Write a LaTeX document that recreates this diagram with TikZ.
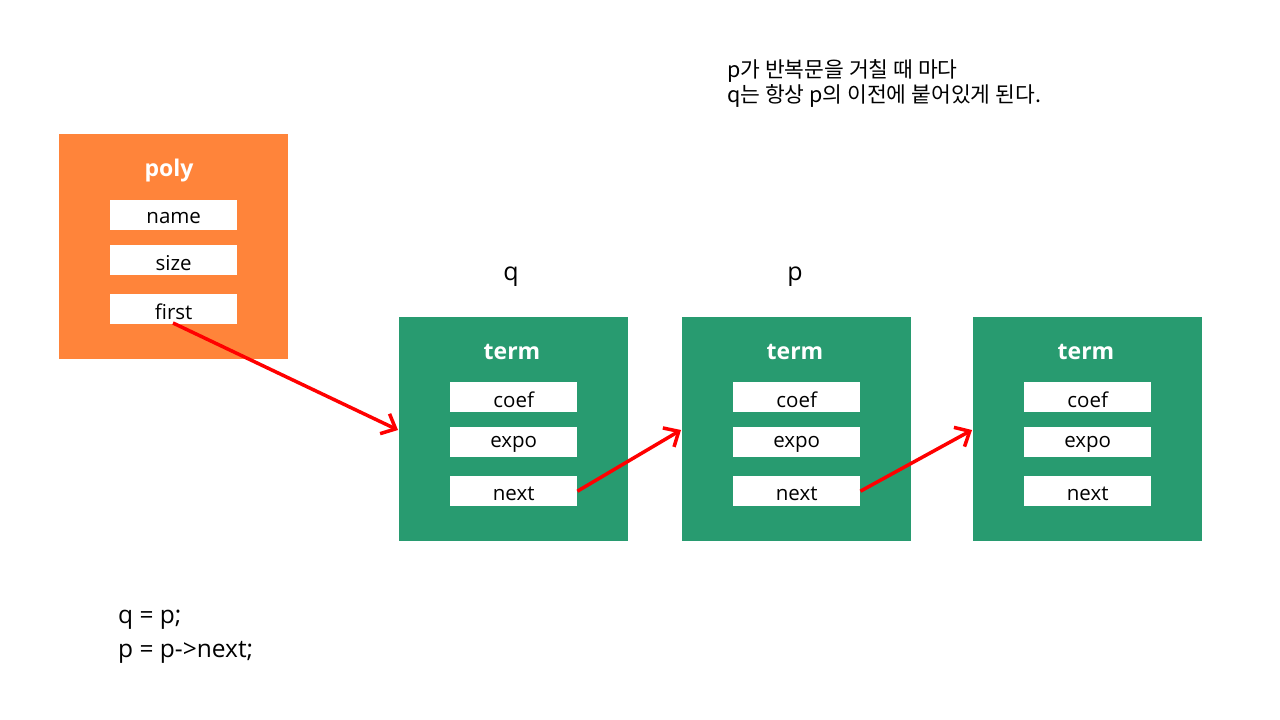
\documentclass[tikz,border=0pt]{standalone}
\usepackage{fontspec}
\setmainfont{Open Sans}
\newfontfamily\kor{Noto Sans CJK KR}
\usetikzlibrary{arrows.meta}
\definecolor{polyor}{RGB}{255,132,58}
\definecolor{termgr}{RGB}{40,155,112}
\definecolor{arrred}{RGB}{255,0,0}
\tikzset{
  polybox/.style={fill=polyor, draw=none, minimum width=229pt, minimum height=225pt, anchor=north west, inner sep=0},
  termbox/.style={fill=termgr, draw=none, minimum width=229pt, minimum height=224pt, anchor=north west, inner sep=0},
  field/.style={fill=white, draw=none, minimum width=127pt, minimum height=30pt, anchor=north west, inner sep=0, font=\fontsize{20.5}{22}\selectfont},
  ftext/.style={inner sep=0, font=\fontsize{20.5}{22}\selectfont},
  title/.style={text=white, font=\fontsize{23}{25}\selectfont\bfseries},
  ptr/.style={draw=arrred, line width=3.5pt, -{Straight Barb[length=12pt,width=22pt,line width=3.5pt]}},
  lbl/.style={font=\fontsize{25}{27}\selectfont},
}
\begin{document}
\begin{tikzpicture}[x=1pt,y=-1pt]
\useasboundingbox (0,0) rectangle (1280,720);
% poly
\node[polybox] (poly) at (59,134) {};
\node[title] (polyt) at (169,171) {poly};
\node[field] (name) at (110,200) {};
\node[field] (size) at (110,245) {};
\node[field] (first) at (110,294) {};
\node[ftext] at ([yshift=-2.5pt]name.center) {name};
\node[ftext] at ([yshift=-2.5pt]size.center) {size};
\node[ftext] at ([yshift=-2.5pt]first.center) {first};
% terms
\foreach \i/\x in {1/399,2/682,3/973}{
  \node[termbox] (t\i) at (\x,317) {};
  \node[title] (t\i t) at (\x+113,352) {term};
  \node[field] (coef\i) at (\x+51,382) {};
  \node[field] (expo\i) at (\x+51,427) {};
  \node[field] (next\i) at (\x+51,476) {};
  \node[ftext] at ([yshift=-2.5pt]coef\i.center) {coef};
  \node[ftext] at ([yshift=-2.5pt]expo\i.center) {expo};
  \node[ftext] at ([yshift=-2.5pt]next\i.center) {next};
}
\node[lbl] (q) at (511,277) {q};
\node[lbl] (p) at (795,277) {p};
% arrows
\coordinate (a0) at (173,323);
\coordinate (b1) at (398,430);
\coordinate (b2) at (681,430);
\coordinate (b3) at (972,430);
\draw[ptr] (a0) -- (b1);
\draw[ptr] (next1.east) -- (b2);
\draw[ptr] (next2.east) -- (b3);
% notes
\node[anchor=west, align=left, font=\kor\fontsize{21.5}{25}\selectfont, inner sep=0] (note) at (727,84) {p가 반복문을 거칠 때 마다\\q는 항상 p의 이전에 붙어있게 된다.};
\node[anchor=west, align=left, font=\fontsize{24.5}{34}\selectfont, inner sep=0] (code) at (118,637) {q = p;\\p = p->next;};
\end{tikzpicture}
\end{document}
